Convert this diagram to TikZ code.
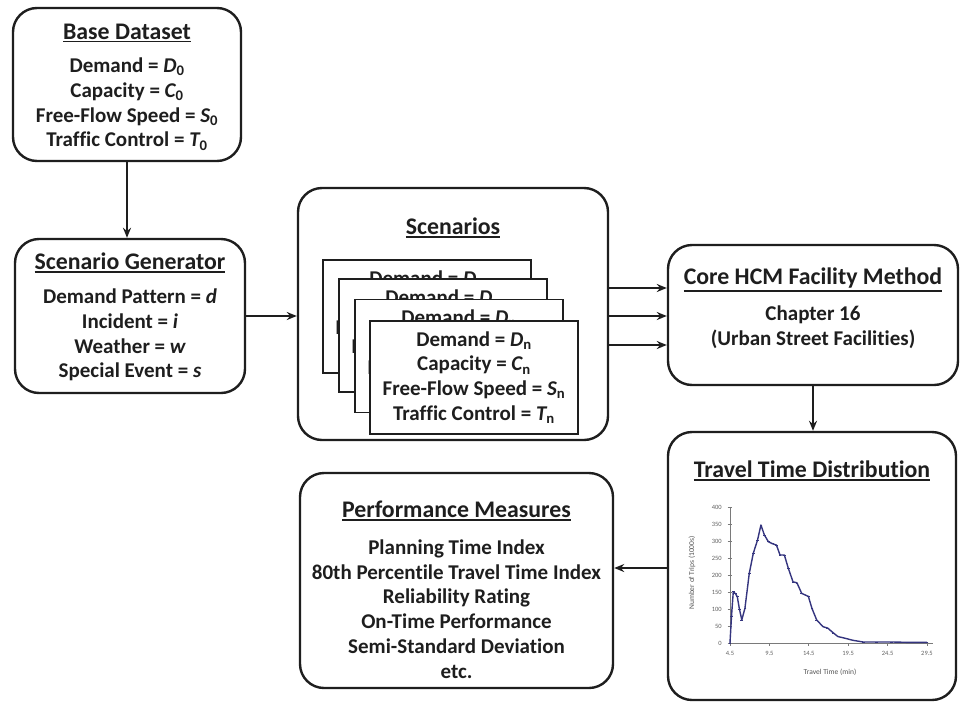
\documentclass[tikz,border=0pt]{standalone}
\usepackage{fontspec}
\setmainfont{Carlito}[Ligatures=NoCommon]
\usetikzlibrary{arrows.meta,plotmarks}
\definecolor{ink}{HTML}{1E1E1E}
\definecolor{axisgray}{HTML}{7A7A7A}
\definecolor{curve}{HTML}{35357F}
% italic variable with an upright subscript
\newcommand\varsub[2]{{\itshape #1}\textsubscript{#2}}
% heading with a thick underline
\newcommand\heading[1]{\vtop{\hbox{#1}\kern1.6pt\hrule height 1.5pt}}

\begin{document}
\begin{tikzpicture}[x=1pt,y=-1pt,
  box/.style={draw=ink, line width=2.4pt, rounded corners=24pt, fill=white, inner sep=0pt},
  card/.style={draw=ink, line width=1.5pt, fill=white, minimum width=208pt, minimum height=113pt, inner sep=0pt},
  ttl/.style={font=\fontsize{23.8}{26}\selectfont\bfseries, text=ink, inner sep=0pt},
  body/.style={font=\fontsize{21}{24.8}\selectfont\bfseries, text=ink, align=center, inner sep=0pt},
  link/.style={draw=ink, line width=2pt, -{Stealth[length=10pt,width=8pt]}},
  axis/.style={draw=axisgray, line width=0.8pt},
  ticklbl/.style={font=\fontsize{6.5}{7}\selectfont, text=axisgray!80!black, inner sep=1pt},
]
\useasboundingbox (0,0) rectangle (960,704);
\fill[white] (0,0) rectangle (960,704);

% ---------- Base dataset ----------
\node[box, minimum width=228pt, minimum height=153pt] (base) at (127,84.5) {};
\node[ttl] (baseT) at (127,33) {\heading{Base Dataset}};
\node[body] (baseB) at (127,104) {Demand = \varsub{D}{0}\\Capacity = \varsub{C}{0}\\Free-Flow Speed = \varsub{S}{0}\\Traffic Control = \varsub{T}{0}};

% ---------- Scenario generator ----------
\node[box, minimum width=230pt, minimum height=154pt] (gen) at (130,316) {};
\node[ttl] (genT) at (130,263) {\heading{Scenario Generator}};
\node[body] (genB) at (130,335) {Demand Pattern = {\itshape d}\\Incident = {\itshape i}\\Weather = {\itshape w}\\Special Event = {\itshape s}};

% ---------- Scenarios ----------
\node[box, minimum width=310pt, minimum height=252pt] (scen) at (453,314) {};
\node[ttl] (scenT) at (453,228) {\heading{Scenarios}};
\foreach \cx/\cy [count=\i] in {427/316.5, 443/335.5, 459/356, 474/377.5}{
  \node[card] (card\i) at (\cx,\cy) {};
  \node[body] (card\i T) at (\cx,\cy) {Demand = \varsub{D}{n}\\Capacity = \varsub{C}{n}\\Free-Flow Speed = \varsub{S}{n}\\Traffic Control = \varsub{T}{n}};
}

% ---------- Core HCM facility method ----------
\node[box, minimum width=290pt, minimum height=140pt] (core) at (813,315) {};
\node[ttl] (coreT) at (813,280) {\heading{Core HCM Facility Method}};
\node[body] (coreB) at (813,327) {Chapter 16\\(Urban Street Facilities)};

% ---------- Travel time distribution ----------
\node[box, minimum width=288pt, minimum height=268pt] (ttd) at (812,566) {};
\node[ttl] (ttdT) at (812,471) {\heading{Travel Time Distribution}};

\begin{scope}[shift={(694.5,643)}, x=7.88pt, y=0.34pt]
  \draw[axis] (4.5,0) -- (4.5,400);
  \draw[axis] (4.5,0) -- (30.3,0);
  \foreach \v [count=\i] in {0,50,...,400}{
    \draw[axis] (4.2,\v) -- (4.8,\v);
    \node[ticklbl, anchor=east] (yl\i) at (3.6,\v) {\v};
  }
  \foreach \t/\lbl [count=\i] in {4.5/4.5, 9.5/9.5, 14.5/14.5, 19.5/19.5, 24.5/24.5, 29.5/29.5}{
    \draw[axis] (\t,0) -- (\t,-10);
    \node[ticklbl, anchor=north] (xl\i) at (\t,-22) {\lbl};
  }
  \draw[curve, line width=1.4pt, line join=round, mark=-, mark size=1.4pt,
        mark options={line width=0.6pt}]
    plot coordinates {(4.5,0) (4.7,80) (4.92,151) (5.2,145) (5.43,136) (5.7,100)
      (6.0,68) (6.4,102) (6.95,205) (7.46,264) (8.0,303) (8.43,347) (8.86,318)
      (9.37,298) (9.9,292) (10.4,288) (10.85,259) (11.4,259) (11.9,220) (12.5,180)
      (13.0,177) (13.6,146) (14.45,137) (14.9,102) (15.5,68) (16.3,48) (16.9,44)
      (17.6,30) (18.2,19) (19.1,14) (20.1,8) (21.4,3) (23.1,3) (25,3) (27,2) (29.5,2)};
\end{scope}
\node[font=\fontsize{7.5}{8}\selectfont, text=axisgray!70!black, rotate=90] (ylab) at (692,573) {Number of Trips (1000s)};
\node[font=\fontsize{7.5}{8}\selectfont, text=axisgray!70!black] (xlab) at (830,672) {Travel Time (min)};

% ---------- Performance measures ----------
\node[box, minimum width=313pt, minimum height=215pt] (perf) at (456.5,580.5) {};
\node[ttl] (perfT) at (456.5,511) {\heading{Performance Measures}};
\node[body] (perfB) at (456.5,609) {Planning Time Index\\80th Percentile Travel Time Index\\Reliability Rating\\On-Time Performance\\Semi-Standard Deviation\\etc.};

% ---------- Connectors ----------
\coordinate (r1) at (640,288);
\coordinate (r2) at (640,316);
\coordinate (r3) at (640,345);
\coordinate (back) at (640,568);
\draw[link] (base.south) -- (base.south |- gen.north);
\draw[link] (gen.east) -- (scen.west |- gen.east);
\draw[link] (scen.east |- r1) -- (core.west |- r1);
\draw[link] (scen.east |- r2) -- (core.west |- r2);
\draw[link] (scen.east |- r3) -- (core.west |- r3);
\draw[link] (core.south) -- (core.south |- ttd.north);
\draw[link] (ttd.west |- back) -- (perf.east |- back);
\end{tikzpicture}
\end{document}
